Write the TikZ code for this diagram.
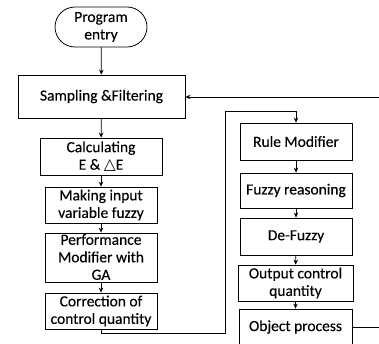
\documentclass[tikz,border=0pt]{standalone}
\usepackage{fontspec}
\setmainfont{Carlito}[FakeBold=0.2]
\newfontfamily\symfont{DejaVu Sans}
\usepackage{tikz}
\usetikzlibrary{arrows.meta, positioning, calc}
\tikzset{
	boxnode/.style={
			rectangle,
			draw=black,
			line width=0.8pt,
			fill=white,
			align=center,
			inner sep=0pt,
			font=\fontsize{15.5}{17.5}\selectfont
		},
	entrynode/.style={
			boxnode,
			rounded corners=20pt
		},
	textnode/.style={
			boxnode,
			draw=none,
			fill=none
		},
	flowline/.style={
			line width=0.8pt,
			-{Stealth[length=5pt,width=4.5pt]}
		},
	plainline/.style={
			line width=0.8pt
		}
}

\begin{document}
\begin{tikzpicture}[x=1pt, y=-1pt]
\clip (0,0) rectangle (379,344);
\fill[white] (0,0) rectangle (379,344);

\node[entrynode, minimum width=92pt, minimum height=40pt] (entry) at (101,27) {Program\\entry};
\node[boxnode, minimum width=167pt, minimum height=43pt] (samp) at (101.5,96.5) {Sampling \&Filtering};
\node[boxnode, minimum width=122pt, minimum height=37pt] (calc) at (101,156.5) {Calculating\\E \& {\symfont\fontsize{15.5}{17.5}\selectfont △}E};
\node[boxnode, minimum width=112pt, minimum height=36pt] (fuzz) at (101,205) {Making input\\variable fuzzy};
\node[boxnode, minimum width=112pt, minimum height=49pt] (perf) at (101,257.5) {};
\node[textnode] (perftxt) at (101,257) {Performance\\Modifier with\\GA};
\node[boxnode, minimum width=112pt, minimum height=36pt] (corr) at (101,311) {Correction of\\control quantity};

\node[boxnode, minimum width=112pt, minimum height=37pt] (rule) at (296,141.5) {Rule Modifier};
\node[boxnode, minimum width=112pt, minimum height=35pt] (reas) at (296,190.5) {Fuzzy reasoning};
\node[boxnode, minimum width=112pt, minimum height=37pt] (defz) at (296,236.5) {De-Fuzzy};
\node[boxnode, minimum width=115pt, minimum height=36pt] (outq) at (295.5,283) {Output control\\quantity};
\node[boxnode, minimum width=113pt, minimum height=36pt] (obj) at (295.5,327) {Object process};

% loop coordinates
\coordinate (lo) at (225,333);
\coordinate (hi) at (225,111);
\coordinate (backout) at (380,327);
\coordinate (backin) at (380,97);

\draw[flowline] (entry) -- (samp);
\draw[flowline] (samp) -- (calc);
\draw[flowline] (calc) -- (fuzz);
\draw[flowline] (fuzz) -- (perf);
\draw[flowline] (perf) -- (corr);

\draw[flowline] (corr.south) |- (lo) -- (hi) -| (rule.north);

\draw[flowline] (rule) -- (reas);
\draw[flowline] (reas) -- (defz);
\draw[flowline] (defz) -- (outq);
\draw[flowline] (outq) -- (obj);

\draw[plainline] (obj.east) -- (backout);
\draw[flowline] (backin) -- (samp.east |- backin);

\end{tikzpicture}
\end{document}
